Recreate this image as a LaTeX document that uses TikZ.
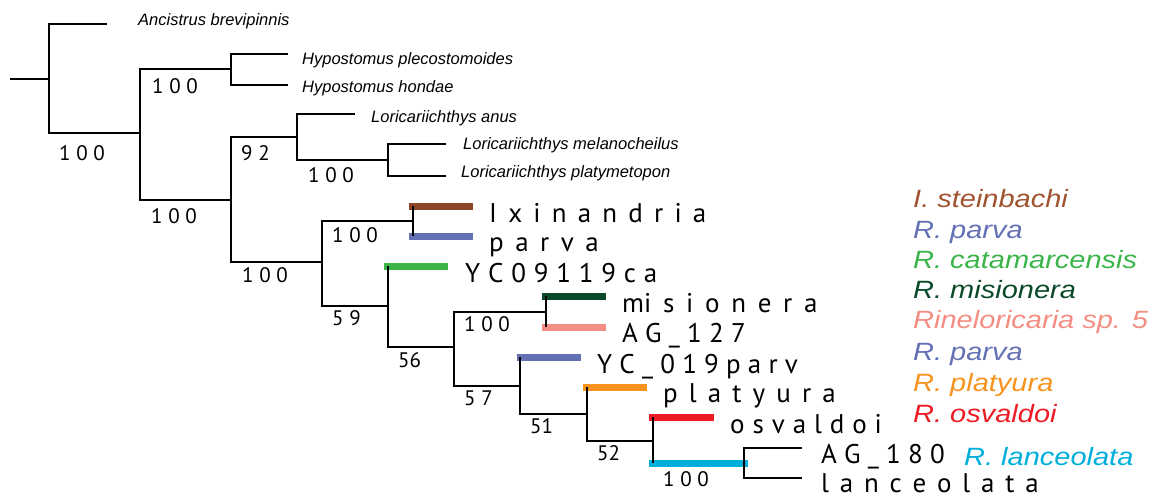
\documentclass[tikz,border=0pt]{standalone}
\usepackage{fontspec}
\newfontfamily\tipfont{PT Sans}
\newfontfamily\itfont{Liberation Sans}
\newfontfamily\legfont[FakeStretch=1.16]{Liberation Sans}
\definecolor{cIxBar}{HTML}{8B4424}
\definecolor{cIx}{HTML}{A0532F}
\definecolor{cPa}{HTML}{6470B4}
\definecolor{cCa}{HTML}{3BB54A}
\definecolor{cMi}{HTML}{0A4A2A}
\definecolor{cSp}{HTML}{F58E82}
\definecolor{cPl}{HTML}{F7931E}
\definecolor{cOs}{HTML}{ED1C24}
\definecolor{cLa}{HTML}{00AEDB}
\newcommand\spc[1]{\spaceskip=\dimexpr\fontdimen2\font+#1pt\relax}
\tikzset{
  branch/.style={line width=1.8pt, line join=miter, black},
  colbar/.style={line width=7pt, line cap=butt},
  tiplab/.style={anchor=base west, inner sep=0pt, font=\tipfont\fontsize{27}{30}\selectfont},
  itlab/.style={anchor=base west, inner sep=0pt, font=\itfont\itshape\fontsize{16.5}{18}\selectfont},
  bslab/.style={anchor=base west, inner sep=0pt, font=\tipfont\fontsize{21}{24}\selectfont},
  leglab/.style={anchor=base west, inner sep=0pt, font=\legfont\itshape\fontsize{25}{28}\selectfont}
}
\begin{document}
\begin{tikzpicture}[x=1pt,y=-1pt]
\useasboundingbox (0,0) rectangle (1155,498);
% internal nodes
\coordinate (root) at (10,79);
\coordinate (A) at (49,79);
\coordinate (B) at (140,133);
\coordinate (C) at (231,69);
\coordinate (D) at (231,200);
\coordinate (E) at (297,137);
\coordinate (F) at (388,160);
\coordinate (G) at (322,262);
\coordinate (H) at (413,221);
\coordinate (I) at (388,306);
\coordinate (J) at (454,347);
\coordinate (K) at (546,312);
\coordinate (L) at (520,386);
\coordinate (M) at (587,414);
\coordinate (N) at (653,441);
\coordinate (O) at (744,463);
% tips
\coordinate (tAnc) at (107,24);
\coordinate (tHp) at (288,54);
\coordinate (tHh) at (288,85);
\coordinate (tLa) at (355,114);
\coordinate (tLm) at (446,144);
\coordinate (tLp) at (446,176);
\coordinate (tIx) at (413,206);
\coordinate (tPa) at (413,236);
\coordinate (tYC) at (388,266);
\coordinate (tMi) at (546,296);
\coordinate (tAG) at (546,327);
\coordinate (tYCp) at (520,357);
\coordinate (tPl) at (587,387);
\coordinate (tOs) at (653,417);
\coordinate (tA180) at (802,448);
\coordinate (tLan) at (802,478);
% branch hidden under the cyan bar
\draw[branch] (N) |- (O);
% coloured bars
\draw[colbar,cIxBar] (409,206) -- (473,206);
\draw[colbar,cPa] (409,236) -- (473,236);
\draw[colbar,cCa] (384,266) -- (448,266);
\draw[colbar,cMi] (542,296) -- (606,296);
\draw[colbar,cSp] (542,327) -- (606,327);
\draw[colbar,cPa] (517,357) -- (581,357);
\draw[colbar,cPl] (583,387) -- (647,387);
\draw[colbar,cOs] (649,417) -- (714,417);
\draw[colbar,cLa] (649,463) -- (748,463);
% branches
\draw[branch] (root) -- (A);
\draw[branch] (A) |- (tAnc);
\draw[branch] (A) |- (B);
\draw[branch] (B) |- (C);
\draw[branch] (B) |- (D);
\draw[branch] (C) |- (tHp);
\draw[branch] (C) |- (tHh);
\draw[branch] (D) |- (E);
\draw[branch] (D) |- (G);
\draw[branch] (E) |- (tLa);
\draw[branch] (E) |- (F);
\draw[branch] (F) |- (tLm);
\draw[branch] (F) |- (tLp);
\draw[branch] (G) |- (H);
\draw[branch] (G) |- (I);
\draw[branch] (H) |- (tIx);
\draw[branch] (H) |- (tPa);
\draw[branch] (I) |- (tYC);
\draw[branch] (I) |- (J);
\draw[branch] (J) |- (K);
\draw[branch] (J) |- (L);
\draw[branch] (K) |- (tMi);
\draw[branch] (K) |- (tAG);
\draw[branch] (L) |- (tYCp);
\draw[branch] (L) |- (M);
\draw[branch] (M) |- (tPl);
\draw[branch] (M) |- (N);
\draw[branch] (N) |- (tOs);
\draw[branch] (N) -- (N |- O);
\draw[branch] (O) |- (tA180);
\draw[branch] (O) |- (tLan);
% italic outgroup labels
\node[itlab] (lAnc) at (138,25) {Ancistrus brevipinnis};
\node[itlab] (lHp) at (302,64) {Hypostomus plecostomoides};
\node[itlab] (lHh) at (302,92) {Hypostomus hondae};
\node[itlab] (lLa) at (371,122) {Loricariichthys anus};
\node[itlab] (lLm) at (463,149) {Loricariichthys melanocheilus};
\node[itlab] (lLp) at (461,177) {Loricariichthys platymetopon};
% tip labels
\node[tiplab] (lIx) at (489,222) {\spc{4.0}I x i n a n d r i a};
\node[tiplab] (lPa) at (489,251) {\spc{4.3}p a r v a};
\node[tiplab] (lYC) at (465,282) {\spc{0.6}Y C 0 9 1 1 9 c a};
\node[tiplab] (lMi) at (622,312) {\spc{4.5}mi s i o n e r a};
\node[tiplab] (lAG) at (622,342) {A G \_ 1 2 7};
\node[tiplab] (lYCp) at (597,373) {Y C \_ 0 1 9 p a r v};
\node[tiplab] (lPl) at (663,402) {\spc{3.9}p l a t y u r a};
\node[tiplab] (lOs) at (730,433) {\spc{0.7}o s v a l d o i};
\node[tiplab] (lA180) at (821,463) {A G \_ 1 8 0};
\node[tiplab] (lLan) at (821,492) {\spc{3.6}l a n c e o l a t a};
% bootstrap values
\node[bslab] (bA) at (59,160) {1 0 0};
\node[bslab] (bB) at (152,93) {1 0 0};
\node[bslab] (bD) at (151,223) {1 0 0};
\node[bslab] (bE) at (241,160) {9 2};
\node[bslab] (bF) at (308,182) {1 0 0};
\node[bslab] (bG) at (242,282) {1 0 0};
\node[bslab] (bH) at (332,242) {1 0 0};
\node[bslab] (bI) at (332,325) {5 9};
\node[bslab] (bJ) at (398,367) {56};
\node[bslab] (bK) at (464,331) {1 0 0};
\node[bslab] (bL) at (464,405) {5 7};
\node[bslab] (bM) at (530,433) {51};
\node[bslab] (bN) at (597,460) {52};
\node[bslab] (bO) at (663,486) {1 0 0};
% legend
\node[leglab,text=cIx] (g1) at (913,207) {I. steinbachi};
\node[leglab,text=cPa] (g2) at (913,238) {R. parva};
\node[leglab,text=cCa] (g3) at (913,268) {R. catamarcensis};
\node[leglab,text=cMi] (g4) at (913,298) {R. misionera};
\node[leglab,text=cSp] (g5) at (913,328) {Rineloricaria sp. 5};
\node[leglab,text=cPa] (g6) at (913,360) {R. parva};
\node[leglab,text=cPl] (g7) at (913,391) {R. platyura};
\node[leglab,text=cOs] (g8) at (913,422) {R. osvaldoi};
\node[leglab,text=cLa] (g9) at (964,465) {R. lanceolata};
\end{tikzpicture}
\end{document}
